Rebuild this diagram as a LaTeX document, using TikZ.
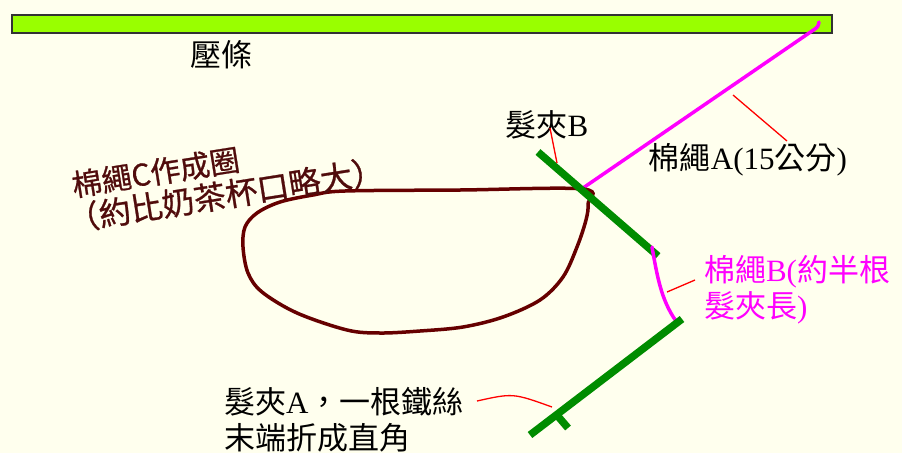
\documentclass[tikz,border=0pt]{standalone}
\usepackage{fontspec}
\setmainfont{Liberation Serif}
\newfontfamily\cjk{Noto Sans CJK TC}
\newfontfamily\cjkheavy[FakeBold=0.8]{Noto Sans CJK TC}
\definecolor{paper}{RGB}{255,255,238}
\definecolor{barfill}{RGB}{153,255,0}
\definecolor{clipgreen}{RGB}{0,140,0}
\definecolor{loopbrown}{RGB}{102,0,0}
\definecolor{notebrown}{RGB}{80,12,12}
\definecolor{rope}{RGB}{255,0,255}
\tikzset{
  label31/.style={font=\fontsize{31}{36}\selectfont, inner sep=0pt, align=left},
  hairclip/.style={draw=clipgreen, line width=7.5pt},
  ropeline/.style={draw=rope, line width=3.5pt, line cap=round},
  loopline/.style={draw=loopbrown, line width=3.5pt},
  leader/.style={draw=red, line width=1.3pt},
  barbox/.style={draw=black!80, line width=1.2pt, fill=barfill, inner sep=0pt}
}
\begin{document}
\begin{tikzpicture}[x=1pt,y=-1pt]
\useasboundingbox (0,0) rectangle (902,453);
\fill[paper] (0,0) rectangle (902,453);

% pressing bar
\node[barbox, minimum width=820pt, minimum height=18pt] (bar) at (422,24) {};
\node[label31] (barlabel) at (221,55) {\cjk 壓條};

% cotton rope A, from the clip up to the bar
\coordinate (ropeAlow) at (583,188);
\coordinate (ropeAtop) at (819,22);
\draw[ropeline] (ropeAlow) -- (812,31) .. controls (818,27) .. (ropeAtop);

% loop made of rope C
\draw[loopline] plot[smooth cycle, tension=0.55] coordinates {
  (583,189) (588,204) (586,220) (577,247) (563,277) (540,300) (503,317)
  (463,327) (420,331) (380,333) (347,330) (297,313) (262,292) (248,273)
  (243,247) (245,227) (257,213) (280,202) (313,195) (345,191) (460,190)};

% hair clip B
\coordinate (clipBa) at (538,152);
\coordinate (clipBb) at (658,256);
\draw[hairclip] (clipBa) -- (clipBb);

% cotton rope B between the clips
\coordinate (ropeBa) at (652,247);
\coordinate (ropeBb) at (676,321);
\draw[ropeline] (ropeBa) .. controls (657,275) and (661,300) .. (ropeBb);

% hair clip A with its bent end
\coordinate (clipAa) at (530,435);
\coordinate (clipAb) at (682,319);
\coordinate (tickA) at (556,414);
\coordinate (tickB) at (568,428);
\draw[hairclip] (clipAa) -- (clipAb);
\draw[hairclip] (tickA) -- (tickB);

% labels
\node[label31] (clipBlabel) at (547,125) {{\cjk 髮夾}B};
\node[label31] (ropeAlabel) at (748,160) {{\cjk 棉繩}A(15{\cjk 公分})};
\node[label31, text=rope] (ropeBlabel) at (797,290)
  {{\cjk 棉繩}B({\cjk 約半根}\\{\cjk 髮夾長})};
\node[label31, anchor=west] (clipAlabel) at (224,420)
  {{\cjk 髮夾}A{\cjk ，一根鐵絲}\\{\cjk 末端折成直角}};
\node[label31, text=notebrown, rotate=9, font=\cjkheavy\fontsize{32}{34}\selectfont]
  (looplabel) at (223,179)
  {\hspace*{10pt}{\fontsize{30}{34}\selectfont 棉繩C作成圈}\\（約比奶茶杯口略大）};

% leader lines
\coordinate (ldA1) at (733,95);
\coordinate (ldA2) at (787,141);
\draw[leader] (ldA1) -- (ldA2);
\coordinate (ldB1) at (550,128);
\coordinate (ldB2) at (557,163);
\draw[leader] (ldB1) -- (ldB2);
\coordinate (ldC1) at (667,292);
\coordinate (ldC2) at (695,280);
\draw[leader] (ldC1) -- (ldC2);
\coordinate (ldD1) at (477,401);
\coordinate (ldD2) at (552,407);
\draw[leader] (ldD1) .. controls (513,393) .. (ldD2);
\end{tikzpicture}
\end{document}
